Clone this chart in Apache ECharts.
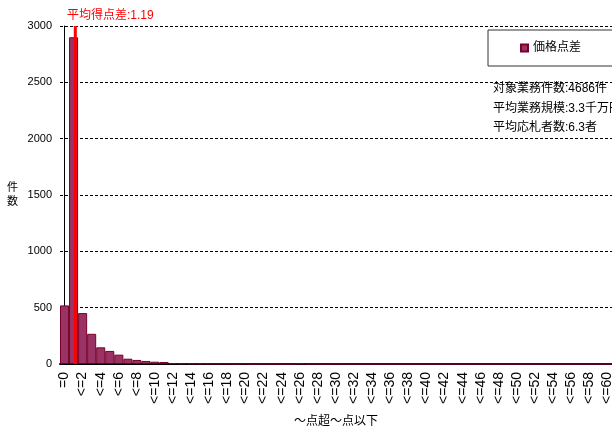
<!DOCTYPE html>
<html><head><meta charset="utf-8">
<script src="https://cdn.jsdelivr.net/npm/echarts@6/dist/echarts.min.js"></script>
<style>html,body{margin:0;padding:0;background:#fff}#c{width:612px;height:426px}</style>
</head><body><div id="c"></div>
<script>
const categories = ["=0","<=1","<=2","<=3","<=4","<=5","<=6","<=7","<=8","<=9","<=10",
"<=11","<=12","<=13","<=14","<=15","<=16","<=17","<=18","<=19","<=20",
"<=21","<=22","<=23","<=24","<=25","<=26","<=27","<=28","<=29","<=30",
"<=31","<=32","<=33","<=34","<=35","<=36","<=37","<=38","<=39","<=40",
"<=41","<=42","<=43","<=44","<=45","<=46","<=47","<=48","<=49","<=50",
"<=51","<=52","<=53","<=54","<=55","<=56","<=57","<=58","<=59","<=60"];
const counts = [520,2900,452,268,148,116,83,47,36,27,20,
18,7,6,5,4,3,3,3,2,3,
0,2,2,0,0,3,2,2,0,2,
0,0,0,0,0,0,0,0,0,0,
0,0,0,0,0,0,0,0,0,0,
0,0,0,0,0,0,0,0,0,0];
const seriesName = "価格点差";
const avgDiff = 1.19;
const avgLabel = "平均得点差:1.19";
const yTicks = {min:0, max:3000, interval:500};
const infoLines = ["対象業務件数:4686件","平均業務規模:3.3千万円","平均応札者数:6.3者"];
const xName = "～点超～点以下";
const yName = "件\n数";

const chart = echarts.init(document.getElementById('c'), null, {renderer:'canvas'});
const font = "'Liberation Sans', Arial, 'Noto Sans CJK JP', sans-serif";
chart.setOption({
  animation:false,
  textStyle:{fontFamily:font},
  title:{text:avgLabel, left:62, top:5, textStyle:{color:'#ff0000', fontSize:12, fontWeight:'normal', fontFamily:font}},
  legend:{data:[seriesName], left:488, top:30, width:122, height:38,
    padding:[12,32,12,32], borderColor:'#333', borderWidth:1, backgroundColor:'#fff',
    icon:'rect', itemWidth:7, itemHeight:7, itemGap:4,
    textStyle:{fontSize:12, color:'#000', fontFamily:font}},
  grid:{left:60, right:0, top:26, bottom:62, containLabel:false, outerBoundsMode:'none'},
  xAxis:[{type:'category', data:categories, boundaryGap:true,
    axisLine:{lineStyle:{color:'#000', width:2}}, axisTick:{show:false},
    axisLabel:{interval:1, rotate:90, fontSize:14, color:'#000', margin:8, fontFamily:font},
    name:xName, nameLocation:'middle', nameGap:52, nameTextStyle:{fontSize:12, color:'#000'}},
    {type:'value', min:-0.5, max:categories.length-0.5, show:false}],
  yAxis:{type:'value', min:yTicks.min, max:yTicks.max, interval:yTicks.interval,
    axisLine:{show:true, lineStyle:{color:'#000', width:1}}, axisTick:{show:false},
    axisLabel:{fontSize:11, color:'#000', margin:8, formatter:v=>String(v)},
    splitLine:{lineStyle:{color:'#000', type:[3,2], width:1}},
    name:yName, nameLocation:'middle', nameRotate:0, nameGap:42,
    nameTextStyle:{fontSize:11, color:'#000', lineHeight:14}},
  graphic:infoLines.map((t,i)=>({type:'text', left:493, top:83+i*19.5, z:100,
    style:{text:t, fontSize:12, fill:'#000', fontFamily:font}})),
  series:[
    {name:seriesName, type:'bar', data:counts, xAxisIndex:0, barCategoryGap:'0%',
      itemStyle:{color:'#993366', borderColor:'#7a0026', borderWidth:1}},
    {name:'avg', type:'line', xAxisIndex:1, data:[[avgDiff,yTicks.min],[avgDiff,yTicks.max]],
      symbol:'none', lineStyle:{color:'#ff0000', width:3}, z:10, silent:true}
  ]
});
</script></body></html>
